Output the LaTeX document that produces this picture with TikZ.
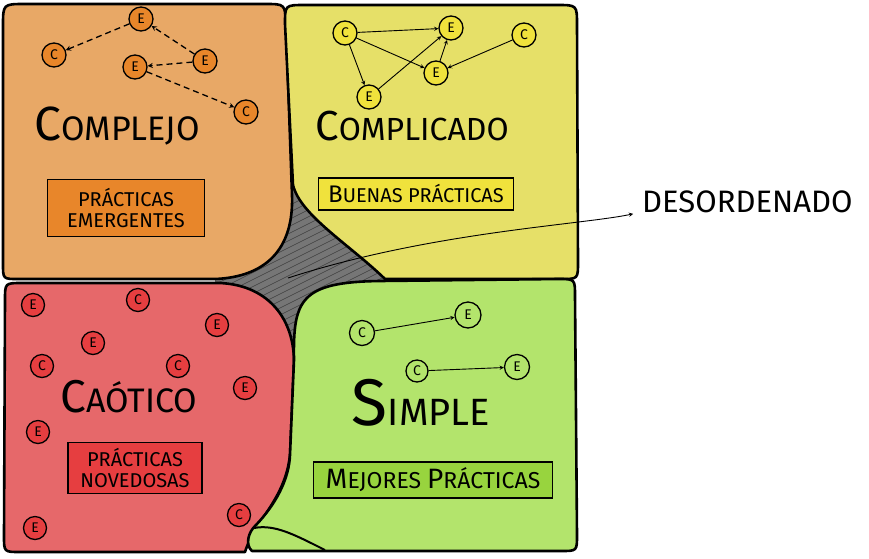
\documentclass[tikz,border=0pt]{standalone}
\usepackage{fontspec}
\setmainfont{Fira Sans}
\definecolor{orangebg}{HTML}{E8A866}
\definecolor{orangedk}{HTML}{E8862A}
\definecolor{yellowbg}{HTML}{E6E068}
\definecolor{yellowdk}{HTML}{F0E23C}
\definecolor{redbg}{HTML}{E6686A}
\definecolor{reddk}{HTML}{E63E40}
\definecolor{greenbg}{HTML}{B3E46C}
\definecolor{greendk}{HTML}{98D43E}
\definecolor{graybg}{HTML}{767676}
\newcommand{\bigini}[2]{{\fontsize{#1}{#1}\selectfont #2}}

\begin{document}
\begin{tikzpicture}[x=1pt,y=-1pt,>=stealth,
  region/.style={draw=black,line width=2.6pt,line join=round},
  dot/.style={shape=circle,draw,line width=1.3pt,minimum size=24pt,inner sep=0pt,font=\fontsize{14}{14}\selectfont},
  tag/.style={draw,line width=1.4pt,inner sep=2pt,align=center},
  title/.style={anchor=base,font=\fontsize{32}{32}\selectfont},
  link/.style={->,line width=0.9pt},
  dlink/.style={->,line width=1.3pt,dash pattern=on 6pt off 4pt}]
\useasboundingbox (0,0) rectangle (869,558);

% desorden en el centro
\fill[graybg] (215,272) -- (295,170) -- (392,280) -- (295,380) -- (215,288) -- cycle;
\begin{scope}
\clip (215,272) -- (295,170) -- (392,280) -- (295,380) -- (215,288) -- cycle;
\foreach \i in {0,...,36}
  \draw[black!75,line width=0.5pt] (200,250+7*\i) -- (400,150+7*\i);
\end{scope}

% los cuatro dominios
\draw[region,fill=orangebg] (3,264) -- (3,26) .. controls (3,4) .. (25,4) -- (265,4)
  .. controls (285,4) .. (286,24) -- (292,195) .. controls (294,250) and (265,277) .. (215,279)
  -- (18,279) .. controls (3,279) .. (3,264) -- cycle;
\draw[region,fill=yellowbg] (293,185) -- (285,24) .. controls (285,5) .. (305,5) -- (557,5)
  .. controls (577,5) .. (577,25) -- (578,262) .. controls (578,279) .. (561,279) -- (385,279)
  .. controls (350,245) and (300,215) .. (293,185) -- cycle;
\draw[region,fill=redbg] (5,300) .. controls (5,283) .. (22,283) -- (220,283)
  .. controls (265,285) and (293,315) .. (294,360) -- (290,455)
  .. controls (285,500) and (255,520) .. (245,552) -- (20,552) .. controls (4,552) .. (4,536) -- cycle;
\draw[region,fill=greenbg] (380,281) -- (558,279) .. controls (575,279) .. (575,296) -- (577,535)
  .. controls (577,551) .. (561,551) -- (252,551) .. controls (245,545) and (248,532) .. (256,525)
  .. controls (275,505) and (289,480) .. (290,455) -- (294,360)
  .. controls (293,300) and (300,282) .. (380,281) -- cycle;
\draw[line width=2pt] (254,528) .. controls (275,524) and (295,535) .. (325,550);

% complejo
\node (ce1) at (141,19) [dot,fill=orangedk] {E};
\node (cc1) at (54,55) [dot,fill=orangedk] {C};
\node (ce2) at (135,67) [dot,fill=orangedk] {E};
\node (ce3) at (205,61) [dot,fill=orangedk] {E};
\node (cc2) at (246,112) [dot,fill=orangedk] {C};
\draw [dlink] (ce1) -- (cc1);
\draw [dlink] (ce3) -- (ce1);
\draw [dlink] (ce3) -- (ce2);
\draw [dlink] (ce2) -- (cc2);
\node (complejo) at (117,140) [title,font=\fontsize{34}{34}\selectfont] {\bigini{48}{C}OMPLEJO};
\node (emerg) at (126,208) [tag,fill=orangedk,minimum width=157pt,minimum height=57pt,font=\fontsize{20}{21}\selectfont]
  {PRÁCTICAS\\EMERGENTES};

% complicado
\node (yc1) at (345,33) [dot,fill=yellowdk] {C};
\node (ye1) at (451,28) [dot,fill=yellowdk] {E};
\node (yc2) at (524,35) [dot,fill=yellowdk] {C};
\node (ye2) at (436,73) [dot,fill=yellowdk] {E};
\node (ye3) at (369,97) [dot,fill=yellowdk] {E};
\draw [link] (yc1) -- (ye1);
\draw [link] (yc1) -- (ye2);
\draw [link] (yc1) -- (ye3);
\draw [link] (ye3) -- (ye1);
\draw [link] (ye2) -- (ye1);
\draw [link] (yc2) -- (ye2);
\node (complicado) at (412,140) [title] {\bigini{42}{C}OMPLICADO};
\node (buenas) at (416,194) [tag,fill=yellowdk,minimum width=195pt,minimum height=32pt,font=\fontsize{20}{21}\selectfont]
  {\bigini{24}{B}UENAS PRÁCTICAS};

% caotico
\node (re1) at (33,305) [dot,fill=reddk,minimum size=23pt] {E};
\node (rc1) at (138,300) [dot,fill=reddk,minimum size=23pt] {C};
\node (re2) at (217,325) [dot,fill=reddk,minimum size=23pt] {E};
\node (re3) at (93,343) [dot,fill=reddk,minimum size=23pt] {E};
\node (rc2) at (42,366) [dot,fill=reddk,minimum size=23pt] {C};
\node (rc3) at (178,366) [dot,fill=reddk,minimum size=23pt] {C};
\node (re4) at (245,388) [dot,fill=reddk,minimum size=23pt] {E};
\node (re5) at (38,432) [dot,fill=reddk,minimum size=23pt] {E};
\node (rc4) at (239,515) [dot,fill=reddk,minimum size=23pt] {C};
\node (re6) at (35,528) [dot,fill=reddk,minimum size=23pt] {E};
\node (caotico) at (129,412) [title,font=\fontsize{34}{34}\selectfont] {\bigini{46}{C}AÓTICO};
\node (noved) at (135,468) [tag,fill=reddk,minimum width=134pt,minimum height=51pt,font=\fontsize{20}{21}\selectfont]
  {PRÁCTICAS\\NOVEDOSAS};

% simple
\node (gc1) at (362,333) [dot,fill=greenbg,minimum size=25pt] {C};
\node (ge1) at (468,315) [dot,fill=greenbg,minimum size=26pt] {E};
\node (gc2) at (417,371) [dot,fill=greenbg,minimum size=22pt] {C};
\node (ge2) at (517,367) [dot,fill=greenbg,minimum size=25pt] {E};
\draw [link] (gc1) -- (ge1);
\draw [link] (gc2) -- (ge2);
\node (simple) at (421,425) [title,font=\fontsize{38}{38}\selectfont] {\bigini{66}{S}IMPLE};
\node (mejores) at (433,480) [tag,fill=greendk,minimum width=239pt,minimum height=36pt,font=\fontsize{23}{24}\selectfont]
  {\bigini{28}{M}EJORES \bigini{28}{P}RÁCTICAS};

% desordenado
\coordinate (d0) at (288,278);
\node (des) at (642,212) [anchor=base west,font=\fontsize{31}{31}\selectfont,inner sep=0pt] {DESORDENADO};
\draw [link] (d0) .. controls (430,232) and (580,225) .. (des.base west) [shorten >=9pt];
\end{tikzpicture}
\end{document}
